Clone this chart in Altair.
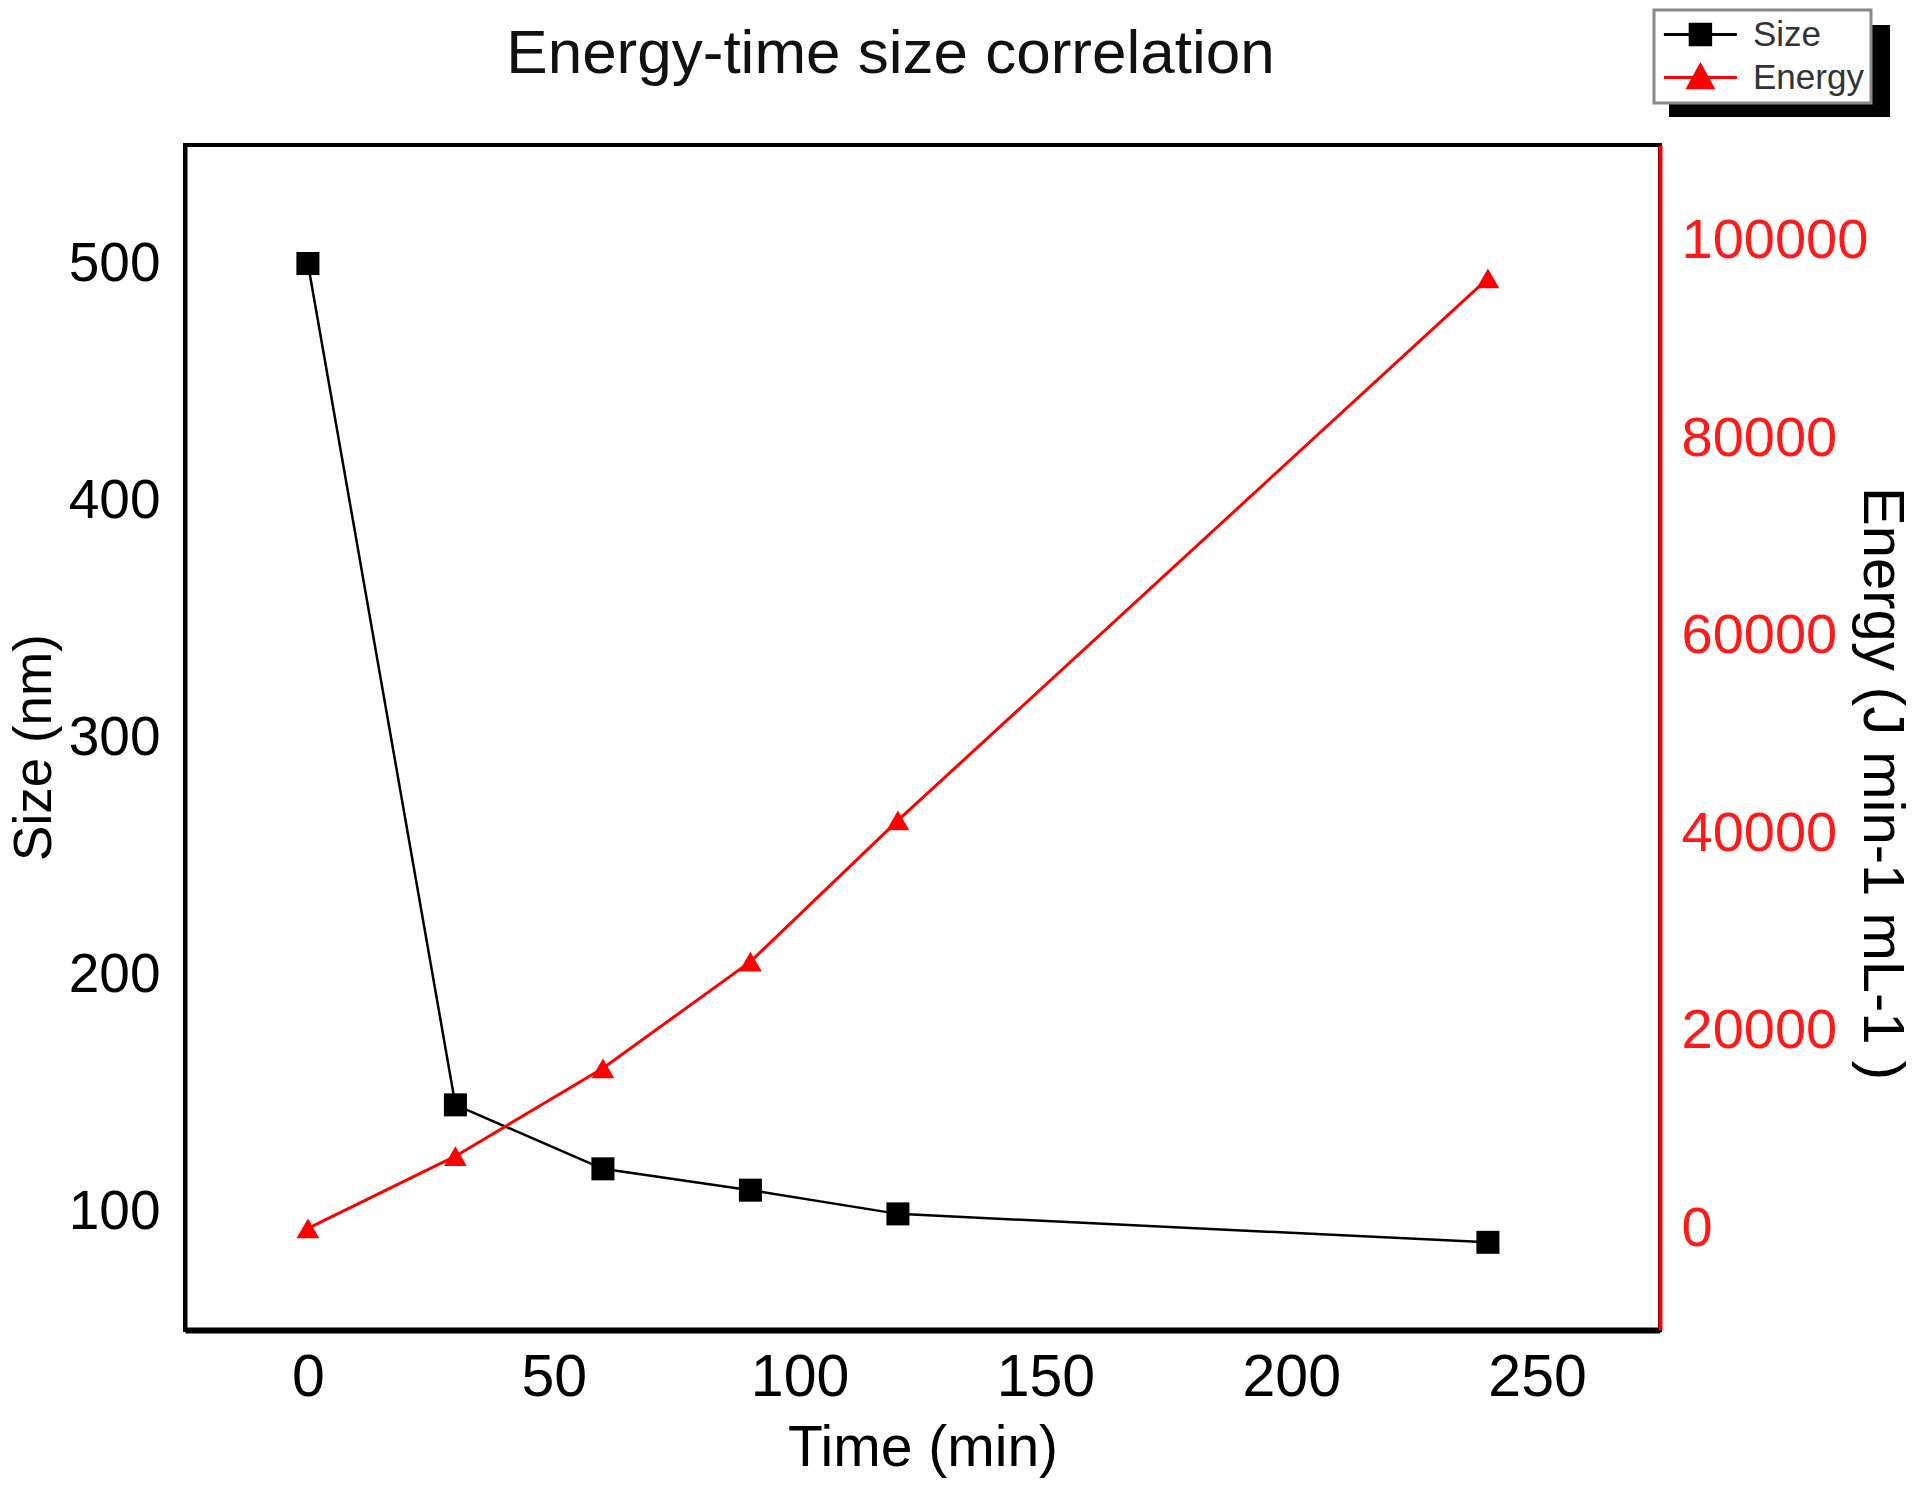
import altair as alt
import pandas as pd

# ---- data ----
time_min = [0, 30, 60, 90, 120, 240]
size_nm = [500, 145, 118, 109, 99, 87]
energy = [0, 7300, 16200, 27000, 41300, 96200]
series_names = ["Size", "Energy"]
x_ticks = [0, 50, 100, 150, 200, 250]
size_ticks = [100, 200, 300, 400, 500]
energy_ticks = [0, 20000, 40000, 60000, 80000, 100000]

df = pd.DataFrame({"time": time_min, "size": size_nm, "energy": energy})
df["series"] = "Size"

FONT = "Liberation Sans"
BLACK = "#000000"
RED = "#ff0000"
LABEL_RED = "#ff1a1a"

W, H = 1475, 1185

x_enc = alt.X(
    "time:Q",
    scale=alt.Scale(domain=[-25, 275], nice=False, zero=False),
    axis=alt.Axis(
        values=x_ticks, title="Time (min)", ticks=False, tickSize=0, grid=False,
        domainColor=BLACK, domainWidth=6,
        labelFont=FONT, labelFontSize=59, labelColor=BLACK, labelLimit=0,
        labelBaseline="middle", labelPadding=47,
        titleFont=FONT, titleFontSize=57, titleFontWeight="normal", titleColor=BLACK,
        titleBaseline="middle", titleY=118,
    ),
)

y_size = alt.Y(
    "size:Q",
    scale=alt.Scale(domain=[50, 550], nice=False, zero=False),
    axis=alt.Axis(
        orient="left", values=size_ticks, title="Size (nm)", ticks=False, tickSize=0, grid=False,
        domainColor=BLACK, domainWidth=4,
        labelFont=FONT, labelFontSize=55, labelColor=BLACK, labelPadding=25, labelLimit=0,
        titleFont=FONT, titleFontSize=53, titleFontWeight="normal", titleColor=BLACK,
        titleBaseline="middle", titleX=-151, titleY=602, titleAngle=270,
    ),
)

y_energy = alt.Y(
    "energy:Q",
    scale=alt.Scale(domain=[-10300, 109700], nice=False, zero=False),
    axis=alt.Axis(
        orient="right", values=energy_ticks, format="d", title="Energy (J min-1 mL-1 )",
        ticks=False, tickSize=0, grid=False,
        domainColor=RED, domainWidth=4,
        labelFont=FONT, labelFontSize=56, labelColor=LABEL_RED, labelPadding=21, labelLimit=0,
        titleFont=FONT, titleFontSize=58, titleFontWeight="normal", titleColor=BLACK,
        titleBaseline="middle", titleX=220, titleY=638, titleAngle=90, titleLimit=0,
    ),
)

size_line = alt.Chart(df).mark_line(color=BLACK, strokeWidth=2.5).encode(x=x_enc, y=y_size)
size_pts = alt.Chart(df).mark_point(shape="square", filled=True, color=BLACK, size=530, opacity=1).encode(x=x_enc, y=y_size)

# legend symbols: a line segment with the marker on it
sq_path = "M-1,0L4,0M0.8,-0.7L2.2,-0.7L2.2,0.7L0.8,0.7Z"
tri_path = "M-1,0L4,0M1.5,-0.85L2.35,0.7L0.65,0.7Z"
leg_props = dict(title=None)
legend_layer = alt.Chart(df).mark_point(filled=True, opacity=0).encode(
    x=x_enc, y=y_size,
    fill=alt.Fill("series:N", scale=alt.Scale(domain=series_names, range=[BLACK, RED]), legend=alt.Legend(**leg_props)),
    stroke=alt.Stroke("series:N", scale=alt.Scale(domain=series_names, range=[BLACK, RED]), legend=alt.Legend(**leg_props)),
    shape=alt.Shape("series:N", scale=alt.Scale(domain=series_names, range=[sq_path, tri_path]), legend=alt.Legend(**leg_props)),
)

# drop shadow behind the legend box (decoration only)
legend_shadow = alt.Chart(df).mark_rect(color=BLACK, clip=False).encode(
    x=alt.value(1484), x2=alt.value(1705), y=alt.value(-120), y2=alt.value(-28)
)

energy_line = alt.Chart(df).mark_line(color=RED, strokeWidth=3).encode(x=x_enc, y=y_energy)
energy_pts = alt.Chart(df).mark_point(shape="triangle-up", filled=True, color=RED, size=520, opacity=1).encode(x=x_enc, y=y_energy)

left = alt.layer(legend_shadow, size_line, size_pts, legend_layer)
right = alt.layer(energy_line, energy_pts)

chart = (
    alt.layer(left, right)
    .resolve_scale(y="independent")
    .properties(
        width=W, height=H,
        autosize=alt.AutoSizeParams(type="none"),
        padding={"left": 177, "top": 137, "right": 263, "bottom": 148},
        title=alt.TitleParams(
            "Energy-time size correlation", font=FONT, fontSize=62, fontWeight="normal",
            color="#111111", anchor="middle", dx=-32, offset=0, dy=126, baseline="alphabetic",
        ),
    )
    .configure(background="white")
    .configure_view(stroke=BLACK, strokeWidth=4)
    .configure_legend(
        orient="none", legendX=1469, legendY=-135,
        fillColor="white", strokeColor="#8a8a8a", strokeWidth=3,
        padding=7, rowPadding=6, symbolSize=853, symbolStrokeWidth=3,
        symbolOpacity=1, labelOffset=57, labelFont=FONT, labelFontSize=35,
        labelColor="#333333",
    )
)

chart.save("out.html", embed_options={"renderer": "svg", "actions": False})
